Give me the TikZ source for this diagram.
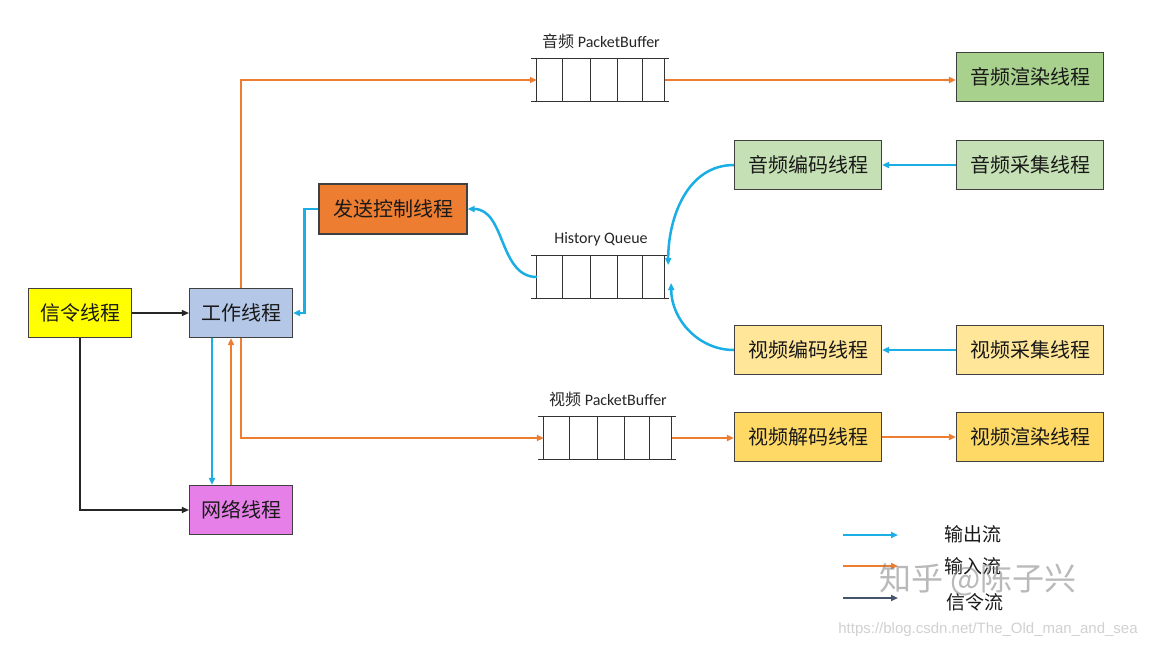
\documentclass[tikz,border=0pt]{standalone}
\usepackage{fontspec}
\setmainfont{Carlito}
\newfontfamily\cjk{Noto Sans CJK SC}
\newfontfamily\urlfont{Liberation Sans}
\usetikzlibrary{arrows.meta,positioning}

\definecolor{flowblue}{HTML}{1AAEE5}
\definecolor{floworange}{HTML}{ED7D31}
\definecolor{flowsig}{HTML}{262626}
\definecolor{legsig}{HTML}{44546A}
\definecolor{boxgray}{HTML}{404040}
\definecolor{sigyellow}{HTML}{FFFF00}
\definecolor{workblue}{HTML}{B4C7E7}
\definecolor{netviolet}{HTML}{E680E8}
\definecolor{sendorange}{HTML}{ED7D31}
\definecolor{renderA}{HTML}{A9D18E}
\definecolor{codecA}{HTML}{C5E0B4}
\definecolor{codecV}{HTML}{FFE699}
\definecolor{renderV}{HTML}{FFD966}

\tikzset{
  thread/.style={draw=boxgray,line width=1.2pt,minimum width=147pt,minimum height=49pt,
    inner sep=0pt,font=\cjk\fontsize{20}{24}\selectfont,text=black!90},
  shortthread/.style={thread,minimum width=103pt},
  qbox/.style={minimum width=128pt,minimum height=43pt,inner sep=0pt},
  qline/.style={draw=black!80,line width=1.2pt},
  qlabel/.style={anchor=south,yshift=6pt,font=\fontsize{16}{18}\selectfont,text=black!85},
  tip/.style={-{Triangle[length=7pt,width=6pt]}},
  outflow/.style={tip,draw=flowblue,line width=2.5pt},
  inflow/.style={tip,draw=floworange,line width=2.4pt},
  sigflow/.style={tip,draw=flowsig,line width=1.1pt},
  legtext/.style={font=\cjk\fontsize{19}{22}\selectfont,text=black!90}
}

% packet queue: name, centre, label
\newcommand{\pktqueue}[3]{%
  \node[qbox] (#1) at (#2) {};
  \draw[qline] ([xshift=-6pt]#1.north west) -- ([xshift=4pt]#1.north east);
  \draw[qline] ([xshift=-6pt]#1.south west) -- ([xshift=4pt]#1.south east);
  \foreach \dx in {0,26,54,81,106,128}
    \draw[qline] ([xshift=\dx pt]#1.north west) -- ([xshift=\dx pt]#1.south west);
  \node[qlabel] (#1-label) at (#1.north) {#3};
}

\begin{document}
\begin{tikzpicture}[x=1pt,y=1pt]
 \fill[white] (0,0) rectangle (1156,-649);
 \useasboundingbox (0,0) rectangle (1156,-649);

 % threads
 \node[shortthread,fill=sigyellow] (xl) at (80,-313) {信令线程};
 \node[shortthread,fill=workblue] (gz) at (241,-313) {工作线程};
 \node[shortthread,fill=netviolet] (wl) at (241,-510) {网络线程};
 \node[thread,fill=sendorange,minimum width=148pt,minimum height=50pt] (fs) at (393,-209) {发送控制线程};
 \node[thread,fill=renderA] (ar) at (1030,-77) {音频渲染线程};
 \node[thread,fill=codecA] (ab) at (808,-165) {音频编码线程};
 \node[thread,fill=codecA] (ac) at (1030,-165) {音频采集线程};
 \node[thread,fill=codecV] (vb) at (808,-350) {视频编码线程};
 \node[thread,fill=codecV] (vc) at (1030,-350) {视频采集线程};
 \node[thread,fill=renderV] (vd) at (808,-437) {视频解码线程};
 \node[thread,fill=renderV] (vr) at (1030,-437) {视频渲染线程};

 % queues
 \pktqueue{apb}{601,-80}{{\cjk 音频} PacketBuffer}
 \pktqueue{hq}{601,-277}{History Queue}
 \pktqueue{vpb}{608,-438}{{\cjk 视频} PacketBuffer}

 % signal flow
 \draw[sigflow] (xl.east) -- (gz.west);
 \draw[sigflow] (xl.south) |- (wl.west);

 % work <-> network
 \draw[outflow] ([xshift=-29pt]gz.south) -- ([xshift=-29pt]gz.south |- wl.north);
 \draw[inflow] ([xshift=-10pt]wl.north) -- ([xshift=-10pt]wl.north |- gz.south);

 % input flow
 \draw[inflow] (gz.north) |- (apb.west);
 \draw[inflow] (gz.south) |- (vpb.west);
 \draw[inflow] (apb.east) -- (apb.east -| ar.west);
 \draw[inflow] (vpb.east) -- (vpb.east -| vd.west);
 \draw[inflow] (vd.east) -- (vr.west);

 % output flow
 \draw[outflow] (fs.west) -- ++(-14,0) |- (gz.east);
 \draw[outflow] (hq.west) to[out=180,in=0] (fs.east);
 \draw[outflow] (ab.west) to[out=180,in=90] ([xshift=3pt,yshift=12pt]hq.east);
 \draw[outflow] (vb.west) to[out=180,in=-90] ([xshift=6pt,yshift=-6pt]hq.east);
 \draw[outflow] (ac.west) -- (ab.east);
 \draw[outflow] (vc.west) -- (vb.east);

 % legend
 \coordinate (l1) at (843,-535); \coordinate (l1e) at (898,-535);
 \coordinate (l2) at (843,-566); \coordinate (l2e) at (898,-566);
 \coordinate (l3) at (843,-598); \coordinate (l3e) at (898,-598);
 \draw[outflow,line width=1.8pt] (l1) -- (l1e);
 \draw[inflow,line width=1.8pt] (l2) -- (l2e);
 \draw[tip,draw=legsig,line width=1.8pt] (l3) -- (l3e);
 \node[legtext] (t1) at (973,-534) {输出流};
 \node[legtext] (t2) at (973,-566) {输入流};
 \node[legtext] (t3) at (975,-602) {信令流};

 % watermarks
 \node[font=\cjk\fontsize{32}{36}\selectfont,text=gray,opacity=0.55] (zh) at (978,-580) {知乎 @陈子兴};
 \node[font=\urlfont\fontsize{15}{18}\selectfont,text=black!18] (url) at (988,-630) {https://blog.csdn.net/The\_Old\_man\_and\_sea};
\end{tikzpicture}
\end{document}
